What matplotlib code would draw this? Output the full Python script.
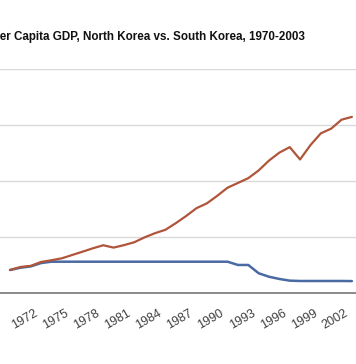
import matplotlib
matplotlib.use("Agg")
import matplotlib.pyplot as plt
from matplotlib.transforms import ScaledTranslation

years = list(range(1970, 2004))
south_korea = [2080, 2350, 2450, 2800, 2950, 3125, 3420, 3714, 4018, 4290,
               4080, 4300, 4560, 5000, 5370, 5670, 6260, 6900, 7600, 8030,
               8700, 9430, 9850, 10280, 10970, 11850, 12560, 13050, 11950, 13230,
               14280, 14700, 15500, 15750]
north_korea = [2080, 2280, 2400, 2700, 2821, 2821, 2821, 2821, 2821, 2821,
               2821, 2821, 2821, 2821, 2821, 2821, 2821, 2821, 2821, 2821,
               2821, 2821, 2530, 2530, 1790, 1480, 1280, 1130, 1100, 1100,
               1100, 1100, 1100, 1090]
tick_years = list(range(1972, 2004, 3))
title = "Per Capita GDP, North Korea vs. South Korea, 1970-2003"

W, H = 356, 364
fig = plt.figure(figsize=(W / 100, H / 100), dpi=100)
fig.patch.set_facecolor("white")

px_per_year = 10.36
x0 = 1970 - 10 / px_per_year
x1 = 1970 + (W - 10) / px_per_year
y_axis_px = 293.3
y_top_px = 69.3
ax = fig.add_axes([0, 1 - y_axis_px / H, 1, (y_axis_px - y_top_px) / H])
ax.set_xlim(x0, x1)
ax.set_ylim(0, 20000)

ax.set_yticks([5000, 10000, 15000, 20000])
ax.yaxis.grid(True, color="#d9d9d9", linewidth=1.0)
ax.set_axisbelow(True)
ax.tick_params(axis="y", left=False, labelleft=False)
for s in ["left", "right", "top"]:
    ax.spines[s].set_visible(False)
ax.spines["bottom"].set_color("#8a8a8a")
ax.spines["bottom"].set_linewidth(1.4)

ax.plot(years, north_korea, color="#4a6aa3", linewidth=1.8, solid_capstyle="round")
ax.plot(years, south_korea, color="#b0553a", linewidth=1.6, solid_capstyle="round")

ax.set_xticks(tick_years)
ax.set_xticklabels([str(y) for y in tick_years], rotation=30, ha="right",
                   va="top", rotation_mode="anchor",
                   fontsize=9, color="#404040", family="Liberation Sans")
ax.tick_params(axis="x", length=0, pad=10)
offset = ScaledTranslation(3 / 100, 0, fig.dpi_scale_trans)
for lab in ax.get_xticklabels():
    lab.set_transform(lab.get_transform() + offset)

fig.text(305 / W, 1 - 37 / H, title, ha="right", va="center",
         fontsize=8.4, fontweight="bold", family="Liberation Sans", color="#111111")

fig.savefig("out.png", dpi=100, facecolor="white")
